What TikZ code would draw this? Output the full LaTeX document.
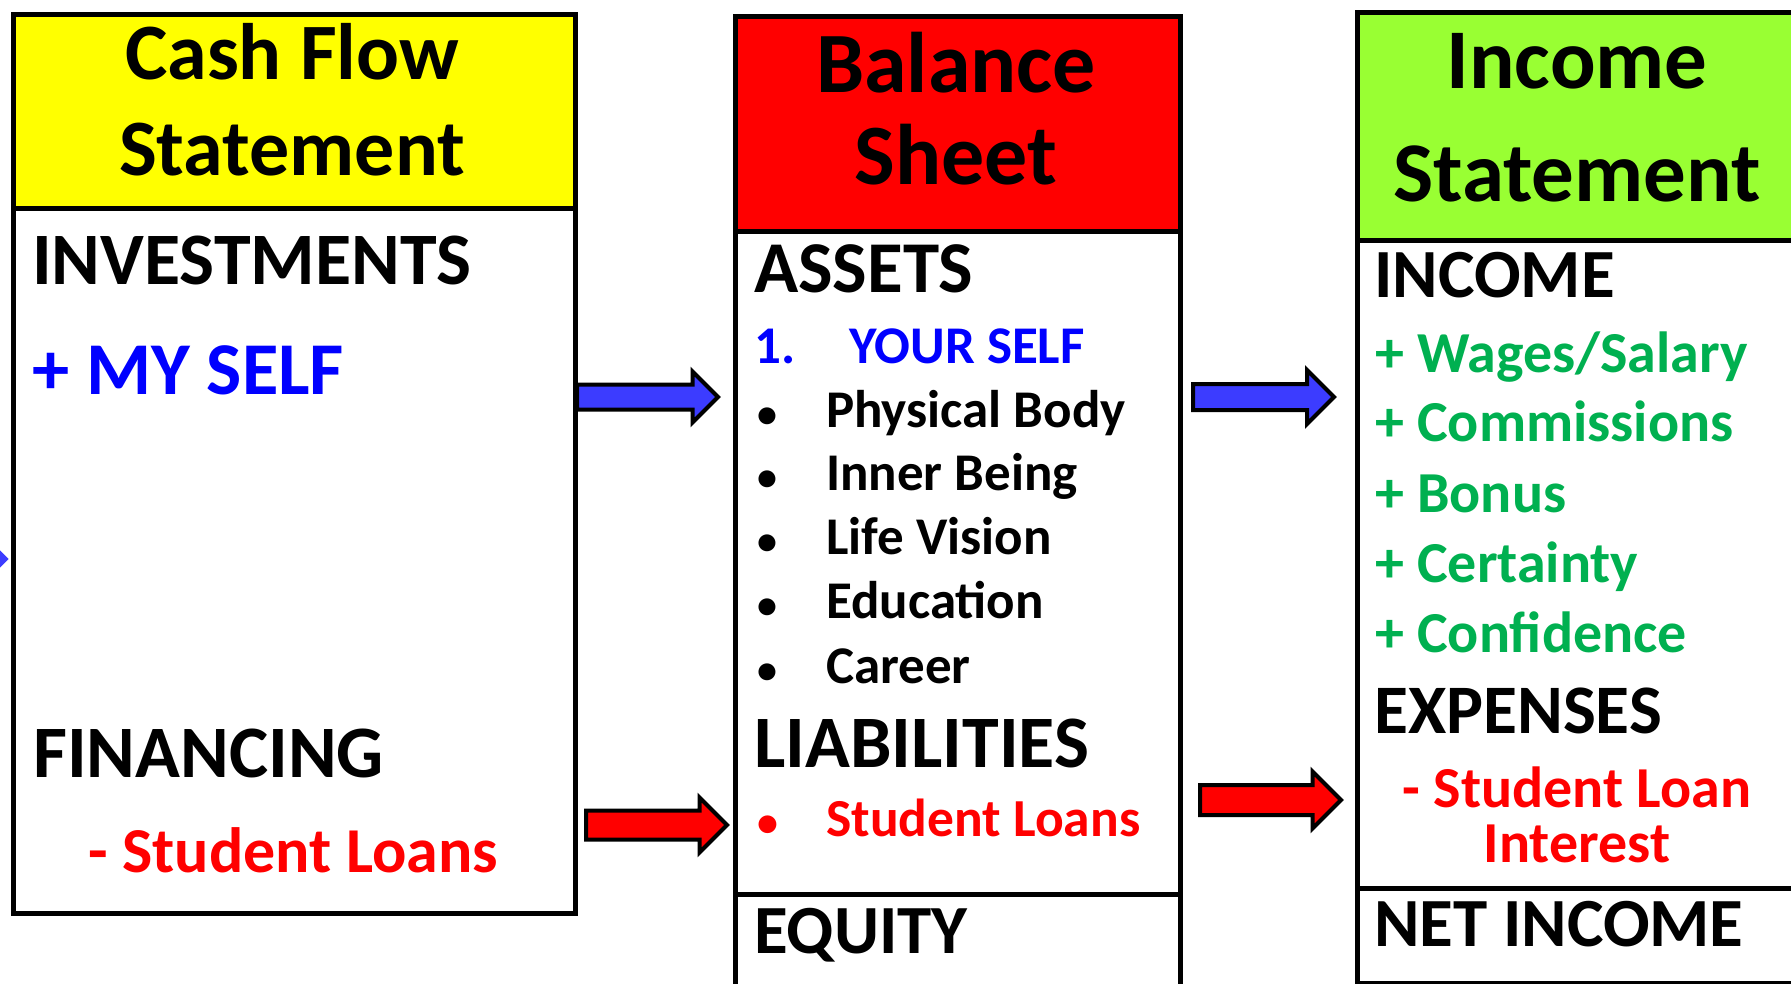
\documentclass[tikz,border=0pt]{standalone}
\usepackage{fontspec}
\setmainfont{Carlito}
\usetikzlibrary{shapes.arrows}

\definecolor{hdryellow}{RGB}{255,255,0}
\definecolor{hdrred}{RGB}{255,0,0}
\definecolor{hdrgreen}{RGB}{153,255,51}
\definecolor{txtblue}{RGB}{0,0,255}
\definecolor{txtgreen}{RGB}{0,176,80}
\definecolor{txtred}{RGB}{255,0,0}
\definecolor{arrblue}{RGB}{60,60,255}

\newcommand{\fsz}[1]{\fontsize{#1}{#1}\selectfont\bfseries}

\begin{document}
\begin{tikzpicture}[x=1pt, y=-1pt,
  box/.style={draw, line width=5pt, inner sep=0pt, anchor=north west},
  txt/.style={anchor=base west, inner sep=0pt},
  mid/.style={anchor=base, inner sep=0pt},
  fatarrow/.style={single arrow, draw, line width=4pt, anchor=tail,
    inner xsep=0pt, minimum height=141pt}]
  \useasboundingbox (0,0) rectangle (1791,984);

  % boxes
  \node[box, minimum width=562pt, minimum height=705pt] (cfbody) at (11,206) {};
  \node[box, fill=hdryellow, minimum width=562pt, minimum height=194pt] (cfhead) at (11,12) {};
  \node[box, minimum width=445pt, minimum height=663pt] (bsbody) at (733,229) {};
  \node[box, minimum width=445pt, minimum height=120pt] (bseq) at (733,892) {};
  \node[box, fill=hdrred, minimum width=445pt, minimum height=215pt] (bshead) at (733,14) {};
  \node[box, minimum width=445pt, minimum height=648pt] (isbody) at (1355,238) {};
  \node[box, minimum width=445pt, minimum height=95pt] (isnet) at (1355,886) {};
  \node[box, fill=hdrgreen, minimum width=445pt, minimum height=228pt] (ishead) at (1355,10) {};

  % headers
  \node[mid] (cft1) at (292,80) {\fsz{80}Cash Flow};
  \node[mid] (cft2) at (292,176) {\fsz{80}Statement};
  \node[mid] (bst1) at (956,93) {\fsz{86}Balance};
  \node[mid] (bst2) at (956,185) {\fsz{86}Sheet};
  \node[mid] (ist1) at (1577,89) {\fsz{85}Income};
  \node[mid] (ist2) at (1577,202) {\fsz{85}Statement};

  % cash flow statement
  \node[txt] (invest) at (32,285) {\fsz{74}INVESTMENTS};
  \node[txt, text=txtblue] (myself) at (32,394) {\fsz{74.5}+ MY SELF};
  \node[txt] (financ) at (33,777) {\fsz{74}FINANCING};
  \node[txt, text=txtred] (cfloan) at (88,872) {\fsz{64}- Student Loans};

  % balance sheet
  \node[txt] (assets) at (754,293) {\fsz{73}ASSETS};
  \node[txt, text=txtblue] (num1) at (754,363) {\fsz{53}1.};
  \node[txt, text=txtblue] (yourself) at (849,363) {\fsz{53}YOUR SELF};
  \node[txt] (b1) at (757,427) {\fsz{40}•};
  \node[txt] (body) at (826,427) {\fsz{53}Physical Body};
  \node[txt] (b2) at (757,490) {\fsz{40}•};
  \node[txt] (inner) at (826,490) {\fsz{53}Inner Being};
  \node[txt] (b3) at (757,554) {\fsz{40}•};
  \node[txt] (vision) at (826,554) {\fsz{53}Life Vision};
  \node[txt] (b4) at (757,618) {\fsz{40}•};
  \node[txt] (educ) at (826,618) {\fsz{53}Education};
  \node[txt] (b5) at (757,683) {\fsz{40}•};
  \node[txt] (career) at (826,683) {\fsz{53}Career};
  \node[txt] (liab) at (754,767) {\fsz{74}LIABILITIES};
  \node[txt, text=txtred] (b6) at (757,836) {\fsz{42}•};
  \node[txt, text=txtred] (bsloan) at (826,836) {\fsz{53.5}Student Loans};
  \node[txt] (equity) at (754,953) {\fsz{69}EQUITY};

  % income statement
  \node[txt] (income) at (1374,298) {\fsz{69}INCOME};
  \node[txt, text=txtgreen] (wages) at (1375,372) {\fsz{58}+ Wages/Salary};
  \node[txt, text=txtgreen] (commis) at (1375,441) {\fsz{58}+ Commissions};
  \node[txt, text=txtgreen] (bonus) at (1375,512) {\fsz{58}+ Bonus};
  \node[txt, text=txtgreen] (certain) at (1375,582) {\fsz{58}+ Certainty};
  \node[txt, text=txtgreen] (confid) at (1375,652) {\fsz{58}+ Confidence};
  \node[txt] (expens) at (1374,733) {\fsz{69.5}EXPENSES};
  \node[mid, text=txtred] (isloan1) at (1577,807) {\fsz{58}- Student Loan};
  \node[mid, text=txtred] (isloan2) at (1577,862) {\fsz{58}Interest};
  \node[txt] (netinc) at (1374,946) {\fsz{69}NET INCOME};

  % arrows
  \node[fatarrow, fill=arrblue, inner ysep=10.5pt, single arrow head extend=13pt] (ar1) at (575,397) {};
  \node[fatarrow, fill=txtred, inner ysep=12.5pt, single arrow head extend=13pt] (ar2) at (584,825) {};
  \node[fatarrow, fill=arrblue, inner ysep=11pt, single arrow head extend=14pt] (ar3) at (1191,397) {};
  \node[fatarrow, fill=txtred, inner ysep=13pt, single arrow head extend=13.5pt] (ar4) at (1198,800) {};
  \node[single arrow, fill=arrblue, anchor=tip, inner xsep=0pt, inner ysep=5pt,
    single arrow head extend=7pt, minimum height=60pt] (ar0) at (9,559) {};
\end{tikzpicture}
\end{document}
